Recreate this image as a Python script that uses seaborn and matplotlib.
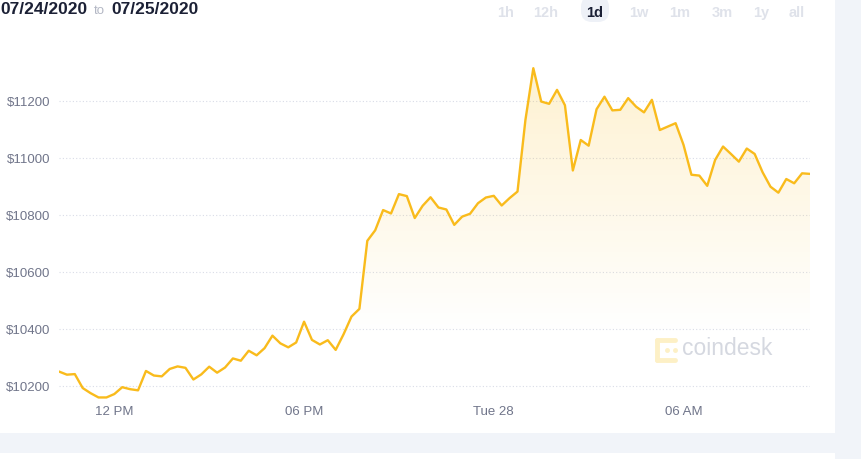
import numpy as np
import pandas as pd
import matplotlib.pyplot as plt
import matplotlib.dates as mdates
from matplotlib.patches import Polygon, Rectangle, FancyBboxPatch
from matplotlib.transforms import IdentityTransform
import seaborn as sns

# BTC price, 15 minute steps
price = [10251, 10240, 10242, 10193, 10175, 10160, 10160, 10172, 10196, 10189,
         10185, 10253, 10237, 10234, 10260, 10269, 10264, 10223, 10241, 10268,
         10247, 10265, 10297, 10289, 10324, 10308, 10333, 10377, 10350, 10336,
         10353, 10426, 10362, 10346, 10361, 10327, 10382, 10444, 10471, 10710,
         10747, 10818, 10806, 10874, 10867, 10790, 10833, 10863, 10827, 10820,
         10766, 10795, 10805, 10842, 10862, 10868, 10834, 10860, 10883, 11134,
         11316, 11199, 11191, 11240, 11186, 10957, 11064, 11044, 11172, 11216,
         11168, 11170, 11211, 11181, 11161, 11205, 11099, 11111, 11123, 11047,
         10942, 10939, 10903, 10994, 11041, 11015, 10988, 11034, 11015, 10951,
         10900, 10879, 10927, 10912, 10947, 10945]
times = pd.date_range("2020-07-27 10:15", periods=len(price), freq="15min")

x_ticks = pd.to_datetime(["2020-07-27 12:00", "2020-07-27 18:00",
                          "2020-07-28 00:00", "2020-07-28 06:00"])
x_labels = ["12 PM", "06 PM", "Tue 28", "06 AM"]
y_ticks = [10200, 10400, 10600, 10800, 11000, 11200]
y_labels = ["$10200", "$10400", "$10600", "$10800", "$11000", "$11200"]
ranges = ["1h", "12h", "1d", "1w", "1m", "3m", "1y", "all"]
range_x = [506, 546, 595, 639, 680, 722, 761, 797]

df = pd.DataFrame({"time": times, "price": price})

sns.set_style("white")
plt.rcParams["font.family"] = ["Liberation Sans", "DejaVu Sans"]

W, H = 861, 459
fig = plt.figure(figsize=(W / 100, H / 100), dpi=100)
fig.patch.set_facecolor("white")

def px(x, y):
    return x / W, 1 - y / H

ymin, ymax = 10150, 11380
ax = fig.add_axes([59 / W, 1 - 400.3 / H, (810 - 59) / W, (400.3 - 50) / H])
ax.set_facecolor("white")

line_col = "#f9bb1c"
sns.lineplot(data=df, x="time", y="price", ax=ax, color=line_col, lw=1.7, zorder=3)

# gradient fill under the line
xn = mdates.date2num(times)
verts = [(xn[0], ymin)] + list(zip(xn, price)) + [(xn[-1], ymin)]
poly = Polygon(verts, closed=True, fc="none", ec="none")
ax.add_patch(poly)
vals = np.linspace(ymax, ymin, 300)
alpha = np.clip((vals - 10380) / (11300 - 10380), 0, 1) * 0.2
img = np.zeros((300, 1, 4))
img[..., 0] = 0.98
img[..., 1] = 0.74
img[..., 2] = 0.11
img[..., 3] = alpha[:, None]
im = ax.imshow(img, aspect="auto", extent=[xn[0], xn[-1], ymin, ymax],
               origin="upper", zorder=2, interpolation="bilinear")
im.set_clip_path(poly)

ax.set_xlim(xn[0], xn[-1])
ax.set_ylim(ymin, ymax)
ax.set_xticks(x_ticks)
ax.set_xticklabels(x_labels)
ax.set_yticks(y_ticks)
ax.set_yticklabels(y_labels)
ax.tick_params(axis="both", length=0, labelsize=9.5, labelcolor="#70758a")
ax.tick_params(axis="y", pad=6.5)
ax.tick_params(axis="x", pad=4)
ax.set_xlabel("")
ax.set_ylabel("")
ax.grid(axis="y", color="#d9dce7", lw=0.8, ls=(0, (1, 2)))
ax.grid(axis="x", visible=False)
for s in ax.spines.values():
    s.set_visible(False)

# watermark
ax.text(0.829, 0.148, "coindesk", transform=ax.transAxes, fontsize=16.5,
        color="#d5d8e0", ha="left", va="center", zorder=1)
for (x0, y0, x1, y1) in [(657, 340, 657, 360), (657, 340, 675, 340),
                         (657, 360, 675, 360)]:
    fig.add_artist(plt.Line2D([x0 / W, x1 / W], [1 - y0 / H, 1 - y1 / H],
                              transform=fig.transFigure, color="#fdf0c6",
                              lw=3.5, solid_capstyle="round"))
for (x0, y0) in [(667, 350), (675, 350)]:
    fig.add_artist(plt.Line2D([x0 / W], [1 - y0 / H], transform=fig.transFigure,
                              marker="o", ms=2.5, color="#fdf0c6", lw=0))

# page frame
fig.add_artist(Rectangle(px(835, 459), 26 / W, 1, transform=fig.transFigure,
                         fc="#f1f4f9", ec="none"))
fig.add_artist(Rectangle(px(0, 453), 835 / W, 20 / H, transform=fig.transFigure,
                         fc="#f1f4f9", ec="none"))

# header
fig.text(*px(0, 13.5), "07/24/2020", fontsize=12.5, fontweight="bold",
         color="#1b2035", va="baseline", ha="left")
fig.text(*px(94, 13.5), "to", fontsize=9.5, color="#b3b7c4",
         va="baseline", ha="left")
fig.text(*px(111.5, 13.5), "07/25/2020", fontsize=12.5, fontweight="bold",
         color="#1b2035", va="baseline", ha="left")

fig.add_artist(FancyBboxPatch((581, H - 22), 28, 26, boxstyle="round,pad=0,rounding_size=11",
                              transform=IdentityTransform(), fc="#eef1f7", ec="none"))
for r, x in zip(ranges, range_x):
    fig.text(*px(x, 17), r, fontsize=10.5, fontweight="bold", ha="center",
             va="baseline", color="#1b2035" if r == "1d" else "#dfe2ea")

fig.savefig("out.png", dpi=100)
